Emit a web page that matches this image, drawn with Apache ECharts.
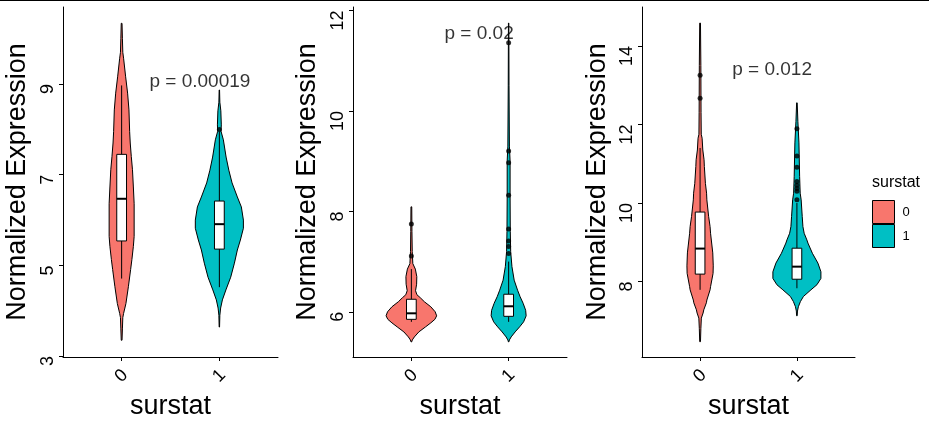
<!DOCTYPE html>
<html>
<head>
<meta charset="utf-8">
<script src="https://cdn.jsdelivr.net/npm/echarts@6/dist/echarts.min.js"></script>
<style>html,body{margin:0;padding:0;background:#fff}#chart{width:929px;height:422px}</style>
</head>
<body>
<div id="chart"></div>
<script>
// ---------- data ----------
const categories = ['0', '1'];
const groupColors = ['#F8766D', '#00BFC4'];
const yTicks1 = [3, 5, 7, 9];
const yTicks2 = [6, 8, 10, 12];
const yTicks3 = [8, 10, 12, 14];
const yRange1 = [2.98, 10.70];
const yRange2 = [5.10, 12.07];
const yRange3 = [6.08, 14.99];

// violin outlines: [value, half width in category units]
const violin1_0 = [[10.34,0.004],[10.0,0.008],[9.7,0.012],[9.57,0.020],[9.16,0.041],[8.80,0.061],[8.43,0.075],[7.95,0.082],[7.70,0.088],[7.40,0.099],[7.11,0.111],[6.73,0.120],[6.36,0.128],[5.64,0.128],[5.42,0.120],[5.13,0.105],[4.91,0.092],[4.53,0.069],[4.16,0.044],[3.94,0.020],[3.85,0.012],[3.60,0.008],[3.35,0.004]];
const violin1_1 = [[8.87,0.002],[8.60,0.005],[8.41,0.015],[8.10,0.020],[7.96,0.017],[7.77,0.041],[7.39,0.069],[7.10,0.097],[6.82,0.130],[6.51,0.184],[6.29,0.225],[6.00,0.246],[5.82,0.246],[5.56,0.215],[5.34,0.184],[5.05,0.154],[4.74,0.116],[4.46,0.067],[4.24,0.031],[4.06,0.013],[3.90,0.005],[3.64,0.002]];
const violin2_0 = [[8.09,0.004],[7.60,0.006],[7.20,0.009],[6.96,0.015],[6.85,0.041],[6.70,0.056],[6.55,0.054],[6.42,0.043],[6.34,0.057],[6.28,0.092],[6.20,0.134],[6.10,0.200],[6.00,0.245],[5.92,0.260],[5.85,0.242],[5.78,0.200],[5.70,0.146],[5.60,0.077],[5.50,0.031],[5.44,0.010],[5.40,0.003]];
const violin2_1 = [[11.75,0.002],[10.50,0.004],[9.30,0.008],[9.00,0.015],[8.30,0.015],[7.60,0.017],[7.20,0.021],[6.90,0.034],[6.63,0.057],[6.43,0.092],[6.30,0.118],[6.17,0.149],[6.03,0.175],[5.92,0.180],[5.80,0.154],[5.70,0.113],[5.60,0.067],[5.50,0.026],[5.44,0.008],[5.40,0.002]];
const violin3_0 = [[14.58,0.004],[13.50,0.008],[12.30,0.010],[11.75,0.012],[11.65,0.021],[11.35,0.028],[11.10,0.041],[10.93,0.044],[10.50,0.055],[10.25,0.067],[10.08,0.070],[9.66,0.088],[9.40,0.103],[9.23,0.108],[8.73,0.131],[8.40,0.136],[8.21,0.134],[7.87,0.108],[7.79,0.103],[7.53,0.070],[7.46,0.065],[7.28,0.038],[7.20,0.031],[7.07,0.013],[6.80,0.008],[6.47,0.004]];
const violin3_1 = [[12.55,0.003],[12.08,0.010],[11.53,0.021],[10.68,0.028],[10.25,0.034],[10.08,0.044],[9.66,0.055],[9.40,0.062],[9.23,0.075],[9.06,0.103],[8.98,0.114],[8.72,0.160],[8.47,0.217],[8.25,0.248],[8.08,0.248],[7.92,0.207],[7.79,0.145],[7.62,0.067],[7.49,0.036],[7.36,0.015],[7.25,0.006],[7.13,0.003]];

// box stats: [lower whisker, Q1, median, Q3, upper whisker]
const box1_0 = [4.71, 5.54, 6.47, 7.45, 8.97];
const box1_1 = [4.52, 5.36, 5.91, 6.42, 7.95];
const box2_0 = [5.80, 5.85, 5.97, 6.25, 6.85];
const box2_1 = [5.80, 5.91, 6.11, 6.35, 7.00];
const box3_0 = [7.79, 8.19, 8.84, 9.77, 11.40];
const box3_1 = [7.83, 8.06, 8.38, 8.85, 10.00];

// outliers
const out1_0 = [];
const out1_1 = [8.00];
const out2_0 = [7.11, 7.75];
const out2_1 = [7.16, 7.30, 7.41, 7.65, 8.32, 8.97, 9.20, 11.36];
const out3_0 = [12.67, 13.25];
const out3_1 = [10.08, 10.30, 10.37, 10.45, 10.55, 10.91, 11.20, 11.89];

const pValueText = ['p = 0.00019', 'p = 0.02', 'p = 0.012'];
const pValueAnchor = [[1.29, 9.04], [1.346, 11.52], [1.337, 13.39]];

// ---------- chart ----------
const FONT = '"Liberation Sans", Arial, sans-serif';
const BOX_HALF = 0.05;
const panels = [
  {violins:[violin1_0, violin1_1], boxes:[box1_0, box1_1], outs:[out1_0, out1_1], ticks:yTicks1, range:yRange1, left:63, width:215, gap:45.5},
  {violins:[violin2_0, violin2_1], boxes:[box2_0, box2_1], outs:[out2_0, out2_1], ticks:yTicks2, range:yRange2, left:353, width:214, gap:45.5},
  {violins:[violin3_0, violin3_1], boxes:[box3_0, box3_1], outs:[out3_0, out3_1], ticks:yTicks3, range:yRange3, left:642, width:213, gap:44.5}
];

const grids = [], xAxes = [], yAxes = [], series = [];
panels.forEach((p, pi) => {
  grids.push({left: p.left, top: 7, width: p.width, height: 350, outerBoundsMode: 'none', containLabel: false});
  xAxes.push({
    type: 'value', gridIndex: pi, min: 0.4, max: 2.6,
    name: 'surstat', nameLocation: 'middle', nameGap: 46.5,
    nameTextStyle: {fontSize: 27, color: '#000', fontFamily: FONT, verticalAlign: 'middle'},
    axisLine: {show: true, onZero: false, lineStyle: {color: '#000', width: 1}},
    axisTick: {show: true, length: 4, lineStyle: {color: '#000'}, customValues: [1, 2]},
    axisLabel: {customValues: [1, 2], formatter: v => categories[Math.round(v) - 1], rotate: 45,
      align: 'center', verticalAlign: 'middle', margin: 19, fontSize: 18, color: '#000', fontFamily: FONT},
    splitLine: {show: false}
  });
  yAxes.push({
    type: 'value', gridIndex: pi, min: p.range[0], max: p.range[1],
    name: 'Normalized Expression', nameLocation: 'middle', nameGap: p.gap, nameRotate: 90,
    nameTextStyle: {fontSize: 27, color: '#000', fontFamily: FONT, verticalAlign: 'middle', align: 'center'},
    axisLine: {show: true, onZero: false, lineStyle: {color: '#000', width: 1}},
    axisTick: {show: true, length: 4, lineStyle: {color: '#000'}, customValues: p.ticks},
    axisLabel: {customValues: p.ticks, rotate: 90, align: 'right', verticalAlign: 'middle', margin: 15,
      fontSize: 18, color: '#000', fontFamily: FONT},
    splitLine: {show: false}
  });
  p.violins.forEach((prof, gi) => {
    const xc = gi + 1;
    series.push({
      type: 'custom', name: categories[gi], xAxisIndex: pi, yAxisIndex: pi, z: 1,
      itemStyle: {color: groupColors[gi]},
      data: [[xc, prof[0][0]]],
      renderItem: (params, api) => {
        const leftSide = prof.map(d => api.coord([xc - d[1], d[0]]));
        const rightSide = prof.slice().reverse().map(d => api.coord([xc + d[1], d[0]]));
        return {type: 'polygon', shape: {points: leftSide.concat(rightSide)},
          style: {fill: groupColors[gi], stroke: '#000', lineWidth: 1}};
      }
    });
  });
  series.push({
    type: 'custom', xAxisIndex: pi, yAxisIndex: pi, z: 2,
    data: p.boxes.map((b, gi) => [gi + 1].concat(b)),
    encode: {x: 0, y: [1, 2, 3, 4, 5]},
    renderItem: (params, api) => {
      const x = api.value(0);
      const c = k => api.coord([x, api.value(k)]);
      const lo = c(1), q1 = c(2), md = c(3), q3 = c(4), hi = c(5);
      const bl = api.coord([x - BOX_HALF, api.value(3)])[0];
      const br = api.coord([x + BOX_HALF, api.value(3)])[0];
      return {type: 'group', children: [
        {type: 'line', shape: {x1: lo[0], y1: lo[1], x2: q1[0], y2: q1[1]}, style: {stroke: '#000', lineWidth: 1}},
        {type: 'line', shape: {x1: q3[0], y1: q3[1], x2: hi[0], y2: hi[1]}, style: {stroke: '#000', lineWidth: 1}},
        {type: 'rect', shape: {x: bl, y: q3[1], width: br - bl, height: q1[1] - q3[1]}, style: {fill: '#fff', stroke: '#000', lineWidth: 1}},
        {type: 'line', shape: {x1: bl, y1: md[1], x2: br, y2: md[1]}, style: {stroke: '#000', lineWidth: 2}}
      ]};
    }
  });
  const pts = [];
  p.outs.forEach((arr, gi) => arr.forEach(v => pts.push([gi + 1, v])));
  series.push({
    type: 'scatter', xAxisIndex: pi, yAxisIndex: pi, z: 3, symbolSize: 5,
    itemStyle: {color: '#000'}, data: pts, silent: true
  });
  series.push({
    type: 'scatter', xAxisIndex: pi, yAxisIndex: pi, z: 4, symbolSize: 1,
    itemStyle: {color: 'rgba(0,0,0,0)'}, data: [pValueAnchor[pi]], silent: true,
    label: {show: true, position: [0, 0], align: 'left', verticalAlign: 'middle',
      formatter: () => pValueText[pi], fontSize: 19, color: '#000', fontFamily: FONT}
  });
});

const chart = echarts.init(document.getElementById('chart'));
chart.setOption({
  backgroundColor: '#fff',
  animation: false,
  title: {text: 'surstat', left: 872, top: 175, padding: 0,
    textStyle: {fontSize: 16, fontWeight: 'normal', color: '#000', fontFamily: FONT}},
  legend: {data: categories, orient: 'vertical', left: 872, top: 200, padding: 0,
    itemWidth: 22, itemHeight: 23, itemGap: 0, icon: 'rect',
    itemStyle: {borderColor: '#000', borderWidth: 1},
    textStyle: {fontSize: 13, color: '#000', fontFamily: FONT, padding: [0, 0, 0, 3]}},
  graphic: [{type: 'rect', left: 0, top: 0, shape: {width: 929, height: 1}, style: {fill: '#000'}}],
  grid: grids, xAxis: xAxes, yAxis: yAxes, series: series
});
</script>
</body>
</html>
